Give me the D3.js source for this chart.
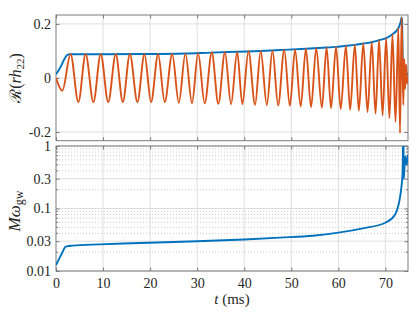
<!DOCTYPE html>
<html>
<head>
<meta charset="utf-8">
<script src="https://cdn.jsdelivr.net/npm/d3@7"></script>
<style>
  body { margin: 0; background: #fff; }
  svg { display: block; }
  text { font-family: "Liberation Serif", "DejaVu Serif", serif; fill: #262626; }
</style>
</head>
<body>
<svg id="chart" width="415" height="312"></svg>
<script>
// ---- data ----
// Re(r h22): extrema of the oscillation (t in ms)
const strainT = [0, 1.35, 3.1, 4.75, 6.3, 7.95, 9.5, 11.1, 12.7, 14.2, 15.7, 17.3, 18.8,
  20.2, 21.7, 23.1, 24.7, 26.1, 27.5, 28.9, 30.2, 31.6, 33.1, 34.5, 35.9, 37.2, 38.5,
  39.6, 40.9, 42.3, 43.5, 44.8, 46.0, 47.2, 48.5, 49.7, 50.8, 52.0, 53.1, 54.2, 55.3,
  56.5, 57.5, 58.45, 59.5, 60.5, 61.6, 62.5, 63.5, 64.35, 65.3, 66.2, 67.1, 67.9, 68.65,
  69.4, 70.15, 70.85, 71.5, 72.15, 72.75, 73.1, 73.45, 73.8, 74.0, 74.2, 74.4, 74.6, 74.8];
const strainV = [0, -0.047, 0.088, -0.089, 0.088, -0.089, 0.088, -0.089, 0.088, -0.089, 0.088, -0.089, 0.088,
  -0.089, 0.088, -0.089, 0.089, -0.092, 0.090, -0.093, 0.092, -0.094, 0.094, -0.0955, 0.0954, -0.097, 0.0966,
  -0.097, 0.099, -0.099, 0.100, -0.100, 0.1015, -0.1016, 0.104, -0.103, 0.105, -0.105, 0.108, -0.108, 0.110,
  -0.110, 0.1126, -0.1115, 0.115, -0.115, 0.1187, -0.1176, 0.1224, -0.1213, 0.1274, -0.1262, 0.1323, -0.1324, 0.1397,
  -0.1386, 0.1471, -0.1484, 0.1618, -0.1632, 0.184, -0.204, 0.224, -0.10, 0.07, -0.04, 0.05, -0.02, 0.005];

// |r h22| envelope
const ampT = [0, 0.5, 1.0, 1.5, 2.0, 2.5, 3.0, 3.5, 10, 19, 27.5, 33, 38.5, 43.5, 48.5, 53.1,
  57.5, 59.5, 61.6, 63.5, 65.3, 67.1, 68.65, 70.15, 71.5, 72.75, 73.2, 73.45, 73.55, 73.7, 74.0, 74.4, 74.8];
const ampV = [0.014, 0.027, 0.042, 0.060, 0.077, 0.086, 0.088, 0.088, 0.088, 0.0885, 0.0905, 0.094, 0.097, 0.100, 0.104, 0.108,
  0.1126, 0.115, 0.119, 0.1224, 0.1274, 0.1323, 0.1397, 0.1471, 0.1618, 0.184, 0.205, 0.224, 0.21, 0.05, 0.03, 0.02, 0.01];

// M omega_gw
const freqT = [0, 0.5, 1.0, 1.5, 1.9, 2.3, 2.6, 3.5, 9.3, 17.8, 30, 40, 47.6, 54.6, 60, 65.2, 70, 72, 73,
  73.4, 73.65, 73.75, 73.8, 73.85, 73.9, 74.05, 74.25, 74.5, 74.8];
const freqV = [0.0125, 0.0148, 0.0176, 0.0209, 0.0239, 0.0248, 0.0251, 0.0255, 0.0267, 0.028, 0.030, 0.032, 0.0342, 0.0367, 0.0411, 0.0482, 0.0592, 0.0786, 0.137,
  0.22, 0.37, 1.0, 1.5, 0.9, 0.30, 0.45, 0.68, 0.50, 0.72];

const xTicks = [0, 10, 20, 30, 40, 50, 60, 70];
const strainTicks = [-0.2, 0, 0.2];
const freqTicks = [0.01, 0.03, 0.1, 0.3, 1];
const freqMinor = [0.02, 0.04, 0.05, 0.06, 0.07, 0.08, 0.09, 0.2, 0.4, 0.5, 0.6, 0.7, 0.8, 0.9];

// ---- layout ----
const left = 56, right = 408;
const top1 = 15, bottom1 = 140.7;
const top2 = 146, bottom2 = 271;
const tick = 3.5;

const blue = "#0072BD", orange = "#D95319";
const gridColor = "#dedede", minorColor = "#cdcdcd", boxColor = "#7a7a7a";

const svg = d3.select("#chart");

const x = d3.scaleLinear().domain([0, 74.8]).range([left, right]);
const yTop = d3.scaleLinear().domain([-0.232, 0.233]).range([bottom1, top1]);
const yBot = d3.scaleLog().domain([0.01, 1]).range([bottom2, top2]);

const defs = svg.append("defs");
[["clip1", top1, bottom1], ["clip2", top2, bottom2]].forEach(([id, t, b]) => {
  defs.append("clipPath").attr("id", id)
    .append("rect").attr("x", left).attr("y", t).attr("width", right - left).attr("height", b - t);
});

// plain number labels like "0.2", "-0.2", "0.03"
const plain = d => String(d);

function drawPanel(y, top, bottom, yTicks, minor) {
  const g = svg.append("g");

  // grid
  g.selectAll(".vgrid").data(xTicks.filter(d => d > 0)).join("line")
    .attr("x1", d => x(d)).attr("x2", d => x(d))
    .attr("y1", top).attr("y2", bottom)
    .attr("stroke", gridColor);
  if (minor) {
    g.selectAll(".mgrid").data(minor).join("line")
      .attr("x1", left).attr("x2", right)
      .attr("y1", d => y(d)).attr("y2", d => y(d))
      .attr("stroke", minorColor).attr("stroke-dasharray", "1,2");
  }
  g.selectAll(".hgrid").data(yTicks).join("line")
    .attr("x1", left).attr("x2", right)
    .attr("y1", d => y(d)).attr("y2", d => y(d))
    .attr("stroke", gridColor);

  // inward ticks on all four sides
  const axes = [
    [d3.axisLeft(y).tickValues(yTicks).tickFormat(plain), `translate(${left},0)`],
    [d3.axisRight(y).tickValues(yTicks).tickFormat(""), `translate(${right},0)`],
    [d3.axisTop(x).tickValues(xTicks).tickFormat(""), `translate(0,${top})`],
    [d3.axisBottom(x).tickValues(xTicks).tickFormat(""), `translate(0,${bottom})`]
  ];
  axes.forEach(([ax, tr]) => {
    const a = g.append("g").attr("transform", tr)
      .call(ax.tickSizeInner(-tick).tickSizeOuter(0).tickPadding(5));
    a.select(".domain").remove();
    a.selectAll(".tick line").attr("stroke", boxColor);
    a.selectAll("text").attr("font-family", null).style("font-size", "14px").attr("fill", "#262626");
  });
  if (minor) {
    [[left, 1], [right, -1]].forEach(([px, k]) => {
      g.selectAll(null).data(minor).join("line")
        .attr("x1", px).attr("x2", px + k * 2)
        .attr("y1", d => y(d)).attr("y2", d => y(d))
        .attr("stroke", boxColor);
    });
  }

  g.append("rect")
    .attr("x", left).attr("y", top)
    .attr("width", right - left).attr("height", bottom - top)
    .attr("fill", "none").attr("stroke", boxColor);
  return g;
}

// top panel: strain
drawPanel(yTop, top1, bottom1, strainTicks, null);

const plot1 = svg.append("g").attr("clip-path", "url(#clip1)");
plot1.append("path")
  .datum(ampT.map((t, i) => [t, ampV[i]]))
  .attr("fill", "none").attr("stroke", blue).attr("stroke-width", 1.9)
  .attr("d", d3.line().curve(d3.curveMonotoneX).x(d => x(d[0])).y(d => yTop(d[1])));
plot1.append("path")
  .datum(strainT.map((t, i) => [t, strainV[i]]))
  .attr("fill", "none").attr("stroke", orange).attr("stroke-width", 1.9)
  .attr("d", d3.line().curve(d3.curveMonotoneX).x(d => x(d[0])).y(d => yTop(d[1])));

// bottom panel: frequency (log)
drawPanel(yBot, top2, bottom2, freqTicks, freqMinor);
// x tick labels
const xa = svg.append("g").attr("transform", `translate(0,${bottom2})`)
  .call(d3.axisBottom(x).tickValues(xTicks).tickSize(0).tickPadding(7));
xa.select(".domain").remove();
xa.selectAll("text").attr("font-family", null).style("font-size", "14px").attr("fill", "#262626");

const plot2 = svg.append("g").attr("clip-path", "url(#clip2)");
plot2.append("path")
  .datum(freqT.map((t, i) => [t, freqV[i]]))
  .attr("fill", "none").attr("stroke", blue).attr("stroke-width", 1.9)
  .attr("d", d3.line().curve(d3.curveMonotoneX).x(d => x(d[0])).y(d => yBot(d[1])));

// axis labels
const yl1 = svg.append("text")
  .attr("transform", "translate(20.5,78) rotate(-90)")
  .attr("text-anchor", "middle").style("font-size", "16px");
yl1.append("tspan").attr("font-family", "DejaVu Serif").text("\u211B");
yl1.append("tspan").text("(");
yl1.append("tspan").style("font-style", "italic").text("rh");
yl1.append("tspan").attr("dy", 3).style("font-size", "11px").text("22");
yl1.append("tspan").attr("dy", -3).text(")");

const yl2 = svg.append("text")
  .attr("transform", "translate(20,211) rotate(-90)")
  .attr("text-anchor", "middle").style("font-size", "17px");
yl2.append("tspan").style("font-style", "italic").text("M\u03C9");
yl2.append("tspan").attr("dy", 3).style("font-size", "12px").text("gw");

const xl = svg.append("text")
  .attr("x", 232).attr("y", 304)
  .attr("text-anchor", "middle").style("font-size", "15px");
xl.append("tspan").style("font-style", "italic").text("t");
xl.append("tspan").text(" (ms)");
</script>
</body>
</html>
